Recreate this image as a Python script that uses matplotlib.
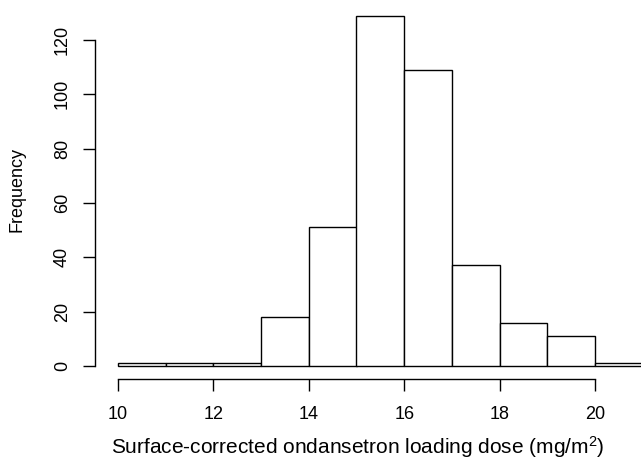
import matplotlib
matplotlib.use("Agg")
import matplotlib.pyplot as plt
import numpy as np

plt.rcParams['font.family'] = ['Liberation Sans', 'DejaVu Sans']
plt.rcParams['mathtext.fontset'] = 'custom'
plt.rcParams['mathtext.rm'] = 'Liberation Sans'
plt.rcParams['mathtext.default'] = 'regular'

bin_edges = [10, 11, 12, 13, 14, 15, 16, 17, 18, 19, 20, 21]
counts = [1, 1, 1, 18, 51, 129, 109, 37, 16, 11, 1]
x_ticks = [10, 12, 14, 16, 18, 20]
y_ticks = [0, 20, 40, 60, 80, 100, 120]

W, H = 641, 459
fig = plt.figure(figsize=(W/100, H/100), dpi=100)
left_px, right_px, bottom_px, top_px = 95, 641, 379, 0
ax = fig.add_axes([left_px/W, 1 - bottom_px/H, (right_px-left_px)/W, (bottom_px-top_px)/H])

xpp = (595 - 118) / 10.0
ypp = (366 - 40) / 120.0
ax.set_xlim(10 - (118 - left_px)/xpp, 10 + (right_px - 118)/xpp)
ax.set_ylim(-(bottom_px - 366)/ypp, (366 - top_px)/ypp)

widths = np.diff(bin_edges)
ax.bar(bin_edges[:-1], counts, width=widths, align='edge', facecolor='white',
       edgecolor='black', linewidth=1.0, clip_on=False)

for s in ['top', 'right']:
    ax.spines[s].set_visible(False)
ax.spines['left'].set_bounds(0, 120)
ax.spines['bottom'].set_bounds(10, 20)
ax.spines['left'].set_linewidth(1.0)
ax.spines['bottom'].set_linewidth(1.0)

ax.set_xticks(x_ticks)
ax.set_yticks(y_ticks)
ax.set_yticklabels([str(v) for v in y_ticks], rotation=90, va='center')
ax.tick_params(axis='both', length=8.3, width=1.0, labelsize=13)
ax.tick_params(axis='x', pad=11)
ax.tick_params(axis='y', pad=9)

ax.set_xlabel('Surface-corrected ondansetron loading dose (mg/m$^{2}$)', fontsize=15)
ax.xaxis.set_label_coords((358 - left_px)/(right_px-left_px), 1 - (454 - top_px)/(bottom_px-top_px))
ax.xaxis.label.set_va('baseline')
ax.set_ylabel('Frequency', fontsize=13)
ax.yaxis.set_label_coords((17 - left_px)/(right_px-left_px), 1 - (190 - top_px)/(bottom_px-top_px))
ax.yaxis.label.set_va('center')
ax.patch.set_alpha(0)

fig.savefig('out.png', dpi=100)
